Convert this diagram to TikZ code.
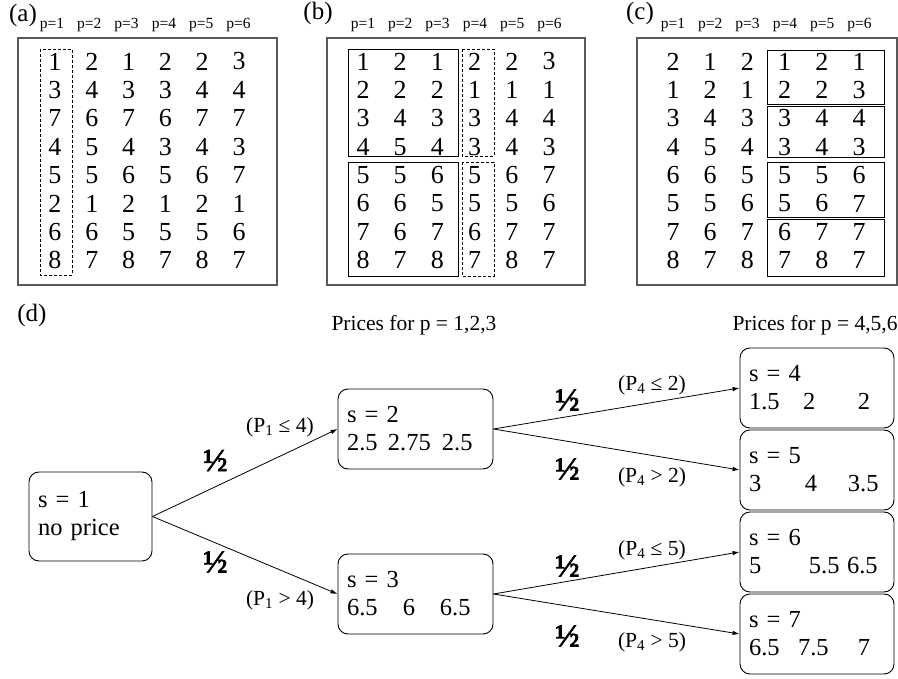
\documentclass[tikz,border=0pt]{standalone}
\usepackage{fontspec}
\setmainfont{Liberation Serif}
\newfontfamily\halffont[FakeBold=2.5]{Liberation Serif}
\usetikzlibrary{arrows.meta}
\newcommand\trinums[5]{\makebox[0pt][l]{#3}\hspace*{#1pt}\makebox[0pt][l]{#4}\hspace*{\dimexpr#2pt-#1pt\relax}\makebox[0pt][l]{#5}}
\begin{document}
\begin{tikzpicture}[x=1pt,y=-1pt,
  frame/.style={draw=black!65, line width=1.6pt},
  grp/.style={draw, line width=0.9pt},
  dgrp/.style={draw, line width=0.9pt, dash pattern=on 3pt off 2pt},
  num/.style={font=\fontsize{26}{30}\selectfont, inner sep=0pt},
  hdr/.style={font=\fontsize{15.5}{18}\selectfont, inner sep=0pt},
  plab/.style={font=\fontsize{25}{30}\selectfont, inner sep=0pt},
  lab/.style={font=\fontsize{21.5}{24}\selectfont, inner sep=0pt},
  half/.style={font=\fontsize{32}{32}\halffont, inner sep=0pt},
  state/.style={draw, rounded corners=10pt, line width=0.9pt, align=left,
    font=\fontsize{24.5}{28}\selectfont, inner xsep=9pt, inner ysep=4pt,
    minimum height=80pt},
  arr/.style={-{Latex[length=7pt,width=4.5pt]}, line width=0.8pt}
]
\useasboundingbox (0,0) rectangle (898,679);

% panel labels
\node[plab] (la) at (23,15) {(a)};
\node[plab] (lb) at (318,13) {(b)};
\node[plab] (lc) at (640,13) {(c)};
\node[plab] (ld) at (32,315) {(d)};

% frames
\draw[frame] (18,38) rectangle (277,285);
\draw[frame] (327,38) rectangle (585,285);
\draw[frame] (637,38) rectangle (897,285);

% headers
\foreach \x/\s in {52/a,363/b,673/c}{
  \foreach \i in {1,...,6}{
    \node[hdr] (h\s\i) at ({\x+37.3*(\i-1)},25) {p=\i};
  }
}

% matrix (a)
\foreach \row [count=\r] in {{1,2,1,2,2,3},{3,4,3,3,4,4},{7,6,7,6,7,7},{4,5,4,3,4,3},{5,5,6,5,6,7},{2,1,2,1,2,1},{6,6,5,5,5,6},{8,7,8,7,8,7}}{
  \foreach \v [count=\c] in \row {
    \node[num] (a-\r-\c) at ({55+36.8*(\c-1)},{61.5+28.4*(\r-1)}) {\v};
  }
}
% matrix (b)
\foreach \row [count=\r] in {{1,2,1,2,2,3},{2,2,2,1,1,1},{3,4,3,3,4,4},{4,5,4,3,4,3},{5,5,6,5,6,7},{6,6,5,5,5,6},{7,6,7,6,7,7},{8,7,8,7,8,7}}{
  \foreach \v [count=\c] in \row {
    \node[num] (b-\r-\c) at ({363+37.2*(\c-1)},{61.5+28.4*(\r-1)}) {\v};
  }
}
% matrix (c)
\foreach \row [count=\r] in {{2,1,2,1,2,1},{1,2,1,2,2,3},{3,4,3,3,4,4},{4,5,4,3,4,3},{6,6,5,5,5,6},{5,5,6,5,6,7},{7,6,7,6,7,7},{8,7,8,7,8,7}}{
  \foreach \v [count=\c] in \row {
    \node[num] (c-\r-\c) at ({673+37.2*(\c-1)},{61.5+28.4*(\r-1)}) {\v};
  }
}

% group boxes
\draw[dgrp] (40,49) rectangle (72,275);
\draw[grp] (348,49) rectangle (458,156);
\draw[grp] (348,162) rectangle (458,276);
\draw[dgrp] (462,49) rectangle (494,156);
\draw[dgrp] (462,162) rectangle (494,276);
\draw[grp] (767,50) rectangle (884,104);
\draw[grp] (767,106) rectangle (884,157);
\draw[grp] (767,162) rectangle (884,217);
\draw[grp] (767,219) rectangle (884,276);

% tree
\node[lab] (pr1) at (414,325) {Prices for p = 1,2,3};
\node[lab] (pr2) at (815,325) {Prices for p = 4,5,6};

\node[state, text width=105pt, minimum height=89pt] (s1) at (90.5,516.5) {s = 1\\no price};
\node[state, text width=137pt] (s2) at (415.5,429) {s = 2\\\trinums{41}{95}{2.5}{2.75}{2.5}};
\node[state, text width=137pt] (s3) at (415.5,594) {s = 3\\\trinums{56}{93}{6.5}{6}{6.5}};
\node[state, text width=136pt] (s4) at (817,388) {s = 4\\\trinums{54}{109}{1.5}{2}{2}};
\node[state, text width=136pt] (s5) at (817,470) {s = 5\\\trinums{56}{99}{3}{4}{3.5}};
\node[state, text width=136pt] (s6) at (817,552) {s = 6\\\trinums{60}{98}{5}{5.5}{6.5}};
\node[state, text width=136pt] (s7) at (817,634) {s = 7\\\trinums{49}{109}{6.5}{7.5}{7}};

\draw[arr] (s1.east) -- (s2.west);
\draw[arr] (s1.east) -- (s3.west);
\draw[arr] (s2.east) -- (s4.west);
\draw[arr] (s2.east) -- (s5.west);
\draw[arr] (s3.east) -- (s6.west);
\draw[arr] (s3.east) -- (s7.west);

\node[half] (h12) at (215.5,460.5) {½};
\node[lab] (c12) at (280,427) {(P\textsubscript{1} ≤ 4)};
\node[half] (h13) at (215.5,562) {½};
\node[lab] (c13) at (280,600) {(P\textsubscript{1} > 4)};
\node[half] (h24) at (567.5,400) {½};
\node[lab] (c24) at (652,385) {(P\textsubscript{4} ≤ 2)};
\node[half] (h25) at (567.5,469) {½};
\node[lab] (c25) at (652,477) {(P\textsubscript{4} > 2)};
\node[half] (h36) at (567.5,566) {½};
\node[lab] (c36) at (652,550) {(P\textsubscript{4} ≤ 5)};
\node[half] (h37) at (567.5,636) {½};
\node[lab] (c37) at (652,642) {(P\textsubscript{4} > 5)};
\end{tikzpicture}
\end{document}
